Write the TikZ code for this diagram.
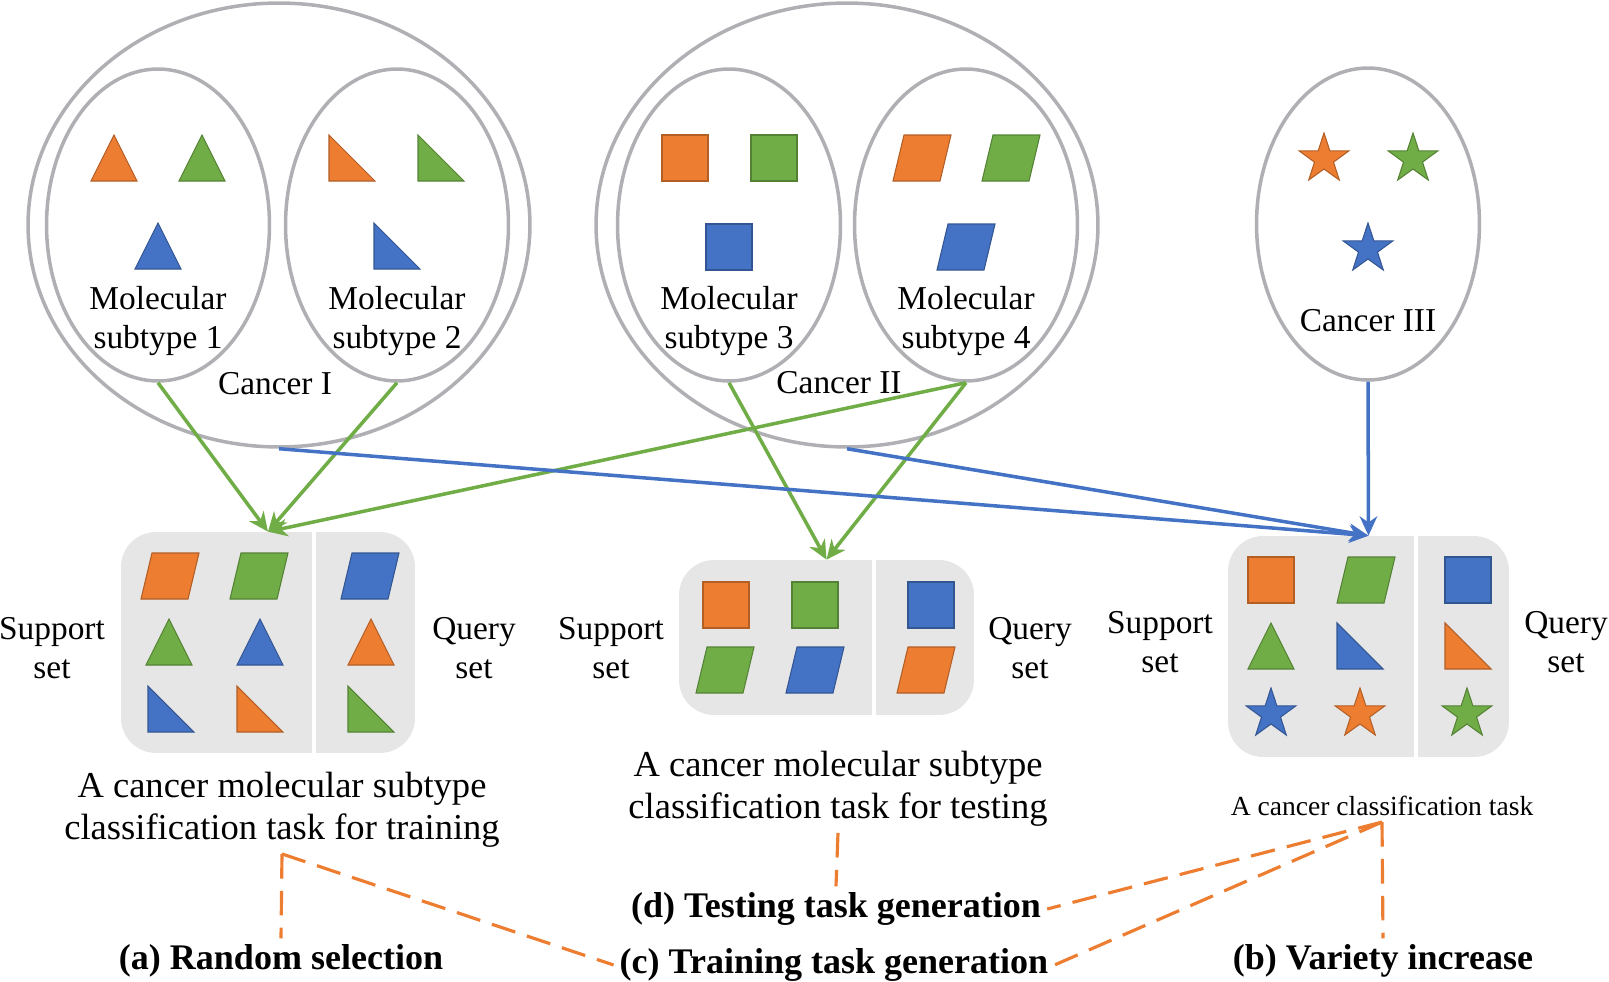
\documentclass[tikz,border=0pt]{standalone}
\usepackage{fontspec}
\setmainfont{Liberation Serif}
\usetikzlibrary{shapes.geometric,arrows.meta}

\definecolor{ored}{HTML}{ED7D31}
\definecolor{ogreen}{HTML}{70AD47}
\definecolor{oblue}{HTML}{4472C4}
\definecolor{ringgray}{HTML}{B0B0B4}
\definecolor{boxgray}{HTML}{E7E6E6}

\tikzset{
  tri/.pic={\path[pic actions] (0,-23) -- (23,23) -- (-23,23) -- cycle;},
  rtri/.pic={\path[pic actions] (-23,-23) -- (-23,23) -- (23,23) -- cycle;},
  sqr/.pic={\path[pic actions] (-23,-23) rectangle (23,23);},
  para/.pic={\path[pic actions] (-29,23) -- (18,23) -- (29,-23) -- (-18,-23) -- cycle;},
  fivestar/.pic={\path[pic actions] (-90:26) \foreach \i in {1,...,9}{-- ({-90+36*\i}:{26-16*isodd(\i)})} -- cycle;}
}

\begin{document}
\begin{tikzpicture}[
    x=0.02cm, y=-0.02cm,
    cancer/.style={ellipse, draw=ringgray, line width=2pt, minimum width=10.04cm, minimum height=8.88cm},
    subtype/.style={ellipse, draw=ringgray, line width=2pt, minimum width=4.46cm, minimum height=6.24cm},
    task/.style={rectangle, fill=boxgray, rounded corners=0.7cm, minimum height=4.42cm},
    split/.style={draw=white, line width=2.2pt},
    lbl/.style={align=center, font=\fontsize{19pt}{22pt}\selectfont},
    captext/.style={align=center, font=\fontsize{20.8pt}{24pt}\selectfont},
    gen/.style={font=\fontsize{20.5pt}{24pt}\selectfont\bfseries},
    glink/.style={-{Stealth[length=11pt,width=10pt,inset=3.5pt]}, draw=ogreen, line width=2pt},
    blink/.style={-{Stealth[length=11pt,width=10pt,inset=3.5pt]}, draw=oblue, line width=2pt},
    dlink/.style={draw=ored, line width=1.8pt, dash pattern=on 14pt off 7pt},
    os/.style={fill=ored, draw=ored!75!black, line width=0.6pt},
    gs/.style={fill=ogreen, draw=ogreen!75!black, line width=0.6pt},
    bs/.style={fill=oblue, draw=oblue!75!black, line width=0.6pt}
]
\useasboundingbox (0,0) rectangle (1609,981);

% cancers and subtypes
\node[cancer] (C1) at (279,225) {};
\node[cancer] (C2) at (847,225) {};
\node[subtype] (S1) at (158,225) {};
\node[subtype] (S2) at (397,225) {};
\node[subtype] (S3) at (729,225) {};
\node[subtype] (S4) at (966,225) {};
\node[subtype] (C3) at (1368,224) {};

\node[lbl] (S1t) at (158,321) {Molecular\\subtype 1};
\node[lbl] (S2t) at (397,321) {Molecular\\subtype 2};
\node[lbl] (S3t) at (729,321) {Molecular\\subtype 3};
\node[lbl] (S4t) at (966,321) {Molecular\\subtype 4};
\node[lbl] (C1t) at (275,384) {Cancer I};
\node[lbl] (C2t) at (839,383) {Cancer II};
\node[lbl] (C3t) at (1368,321) {Cancer III};

\pic[os] at (114,158) {tri};
\pic[gs] at (202,158) {tri};
\pic[bs] at (158,246) {tri};
\pic[os] at (352,158) {rtri};
\pic[gs] at (441,158) {rtri};
\pic[bs] at (397,246) {rtri};
\pic[os] at (685,158) {sqr};
\pic[gs] at (774,158) {sqr};
\pic[bs] at (729,247) {sqr};
\pic[os] at (922,158) {para};
\pic[gs] at (1011,158) {para};
\pic[bs] at (966,247) {para};
\pic[os] at (1324,159) {fivestar};
\pic[gs] at (1413,159) {fivestar};
\pic[bs] at (1368,249) {fivestar};

% tasks
\node[task, minimum width=5.88cm] (T1) at (268,642.5) {};
\node[task, minimum width=5.9cm, minimum height=3.1cm] (T2) at (826.5,637.5) {};
\node[task, minimum width=5.62cm] (T3) at (1368.5,646.5) {};
\draw[split] (T1.north -| 314,0) -- (T1.south -| 314,0);
\draw[split] (T2.north -| 874,0) -- (T2.south -| 874,0);
\draw[split] (T3.north -| 1416,0) -- (T3.south -| 1416,0);

\pic[os] at (170,576) {para};
\pic[gs] at (259,576) {para};
\pic[bs] at (370,576) {para};
\pic[gs] at (169,642) {tri};
\pic[bs] at (260,642) {tri};
\pic[os] at (371,642) {tri};
\pic[bs] at (171,709) {rtri};
\pic[os] at (260,709) {rtri};
\pic[gs] at (371,709) {rtri};

\pic[os] at (726,605) {sqr};
\pic[gs] at (815,605) {sqr};
\pic[bs] at (931,605) {sqr};
\pic[gs] at (725,670) {para};
\pic[bs] at (815,670) {para};
\pic[os] at (926,670) {para};

\pic[os] at (1271,580) {sqr};
\pic[gs] at (1366,580) {para};
\pic[bs] at (1468,580) {sqr};
\pic[gs] at (1271,646) {tri};
\pic[bs] at (1360,646) {rtri};
\pic[os] at (1468,646) {rtri};
\pic[bs] at (1271,714) {fivestar};
\pic[os] at (1360,714) {fivestar};
\pic[gs] at (1467,714) {fivestar};

\node[lbl] (Sp1) at (52,648) {Support\\set};
\node[lbl] (Q1) at (474,648) {Query\\set};
\node[lbl] (Sp2) at (611,648) {Support\\set};
\node[lbl] (Q2) at (1030,648) {Query\\set};
\node[lbl] (Sp3) at (1160,642) {Support\\set};
\node[lbl] (Q3) at (1566,642) {Query\\set};

\node[captext] (P1) at (282,810) {A cancer molecular subtype\\classification task for training};
\node[captext] (P2) at (838,789) {A cancer molecular subtype\\classification task for testing};
\node[captext, font=\fontsize{15.7pt}{18pt}\selectfont] (P3) at (1382,806) {A cancer classification task};

\node[gen] (La) at (281,961) {(a) Random selection};
\node[gen] (Lc) at (834,965) {(c) Training task generation};
\node[gen] (Ld) at (836,909) {(d) Testing task generation};
\node[gen] (Lb) at (1383,961) {(b) Variety increase};

% links
\draw[glink] (S1.south) -- (T1.north);
\draw[glink] (S2.south) -- (T1.north);
\draw[glink] (S4.south) -- (T1.north);
\draw[glink] (S3.south) -- (T2.north);
\draw[glink] (S4.south) -- (T2.north);
\draw[blink] (C1.south) -- (T3.north);
\draw[blink] (C2.south) -- (T3.north);
\draw[blink] (C3.south) -- (T3.north);

\draw[dlink] (P1.south) -- (La.north);
\draw[dlink] (P1.south) -- (Lc.west);
\draw[dlink] (P2.south) -- (Ld.north);
\draw[dlink] (P3.south) -- (Ld.east);
\draw[dlink] (P3.south) -- (Lc.east);
\draw[dlink] (P3.south) -- (Lb.north);

\end{tikzpicture}
\end{document}
